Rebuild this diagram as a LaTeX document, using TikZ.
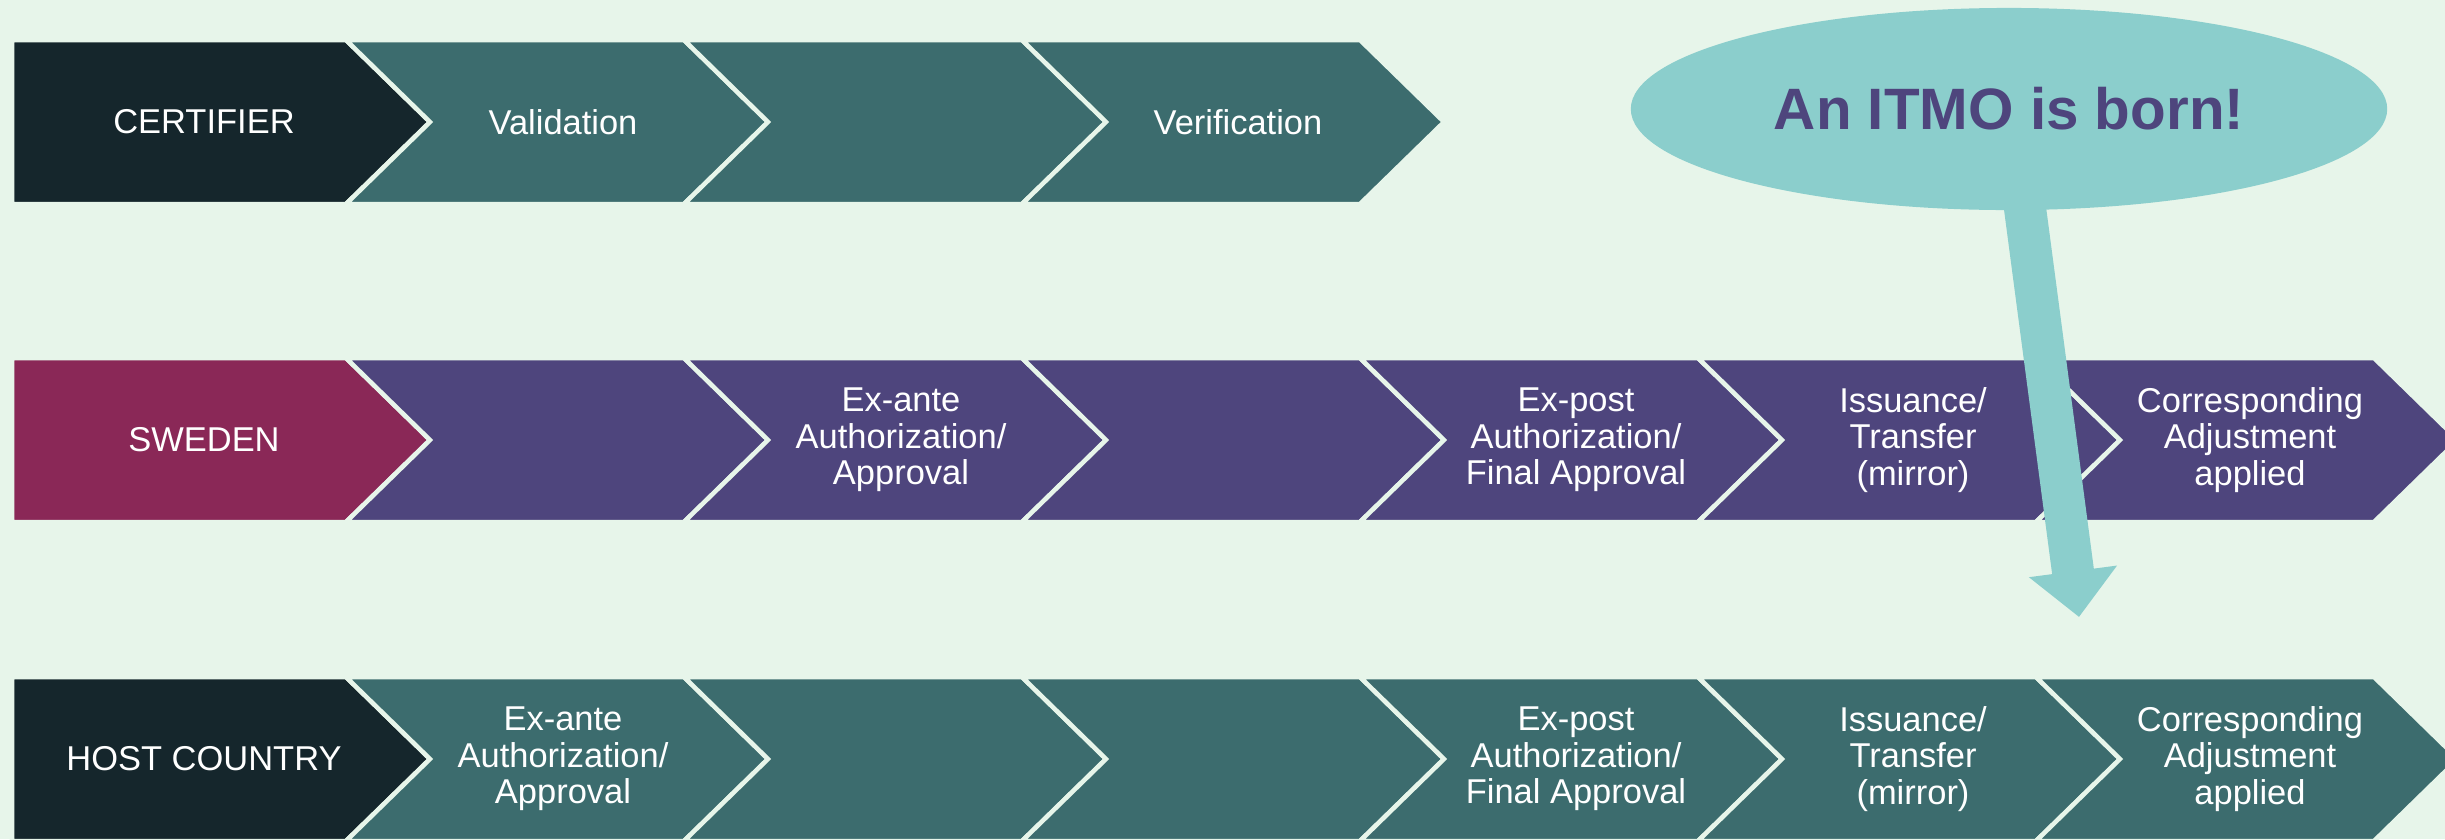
\documentclass[tikz,border=0pt]{standalone}
\usepackage{fontspec}
\setmainfont{Liberation Sans}
\usepackage{tikz}
\usetikzlibrary{positioning,shapes.geometric,arrows.meta}
\definecolor{bgmint}{HTML}{E7F5EA}
\definecolor{headdark}{HTML}{15262C}
\definecolor{stepteal}{HTML}{3C6C6E}
\definecolor{steppurple}{HTML}{4E457D}
\definecolor{headmaroon}{HTML}{8A2857}
\definecolor{itmoblue}{HTML}{8BCECC}
\tikzset{
    chev/.style={
        fill=#1,
        draw=bgmint,
        line width=0.045cm,
        line join=miter
    },
    steptext/.style={
        text=white,
        align=center,
        inner sep=0pt,
        font=\fontsize{9.8}{10.4}\selectfont
    },
    bubble/.style={
        ellipse,
        fill=itmoblue,
        minimum width=7.56cm,
        minimum height=2.02cm,
        inner sep=0pt,
        text=steppurple,
        font=\fontsize{16.6}{19}\selectfont\bfseries
    },
    tail/.style={draw=itmoblue, line width=0.42cm, -{Triangle[length=0.46cm,width=0.86cm]}}
}

\begin{document}
\begin{tikzpicture}[x=0.01cm,y=-0.01cm]
        % Sfondo e dimensioni
        \useasboundingbox (0,0) rectangle (2445,839);
        \fill[bgmint] (0,0) rectangle (2445,839);
        \clip (0,0) rectangle (2445,839);

        % Frecce delle tre righe: testa piatta + passi con tacca
        \foreach \yc/\first/\rest/\n in {122/headdark/stepteal/3, 440/headmaroon/steppurple/6, 759/headdark/stepteal/6}
            {
            \draw[chev=\first] (12,\yc-82) -- (346,\yc-82) -- (430,\yc) -- (346,\yc+82) -- (12,\yc+82) -- cycle;
            \foreach \i in {1,...,\n}
                {
                \pgfmathsetmacro{\xa}{346+338*(\i-1)}
                \pgfmathsetmacro{\xb}{\xa+338}
                \draw[chev=\rest] (\xa,\yc-82) -- (\xb,\yc-82) -- (\xb+84,\yc) -- (\xb,\yc+82) -- (\xa,\yc+82) -- (\xa+84,\yc) -- cycle;
                }
            }

        % Testi riga 1
        \node[steptext] (cert) at (204,122) {CERTIFIER};
        \node[steptext] (valid) at (563,122) {Validation};
        \node[steptext] (verif) at (1238,122) {Verification};

        % Testi riga 2
        \node[steptext] (swe) at (204,440) {SWEDEN};
        \node[steptext] (swe-ante) at (901,440) {Ex-ante\\Authorization/\\Approval};
        \node[steptext] (swe-post) at (1576,440) {Ex-post\\Authorization/\\Final Approval};
        \node[steptext] (swe-iss) at (1913,440) {Issuance/\\Transfer\\(mirror)};
        \node[steptext] (swe-ca) at (2250,440) {Corresponding\\Adjustment\\applied};

        % Testi riga 3
        \node[steptext] (host) at (204,759) {HOST COUNTRY};
        \node[steptext] (host-ante) at (563,759) {Ex-ante\\Authorization/\\Approval};
        \node[steptext] (host-post) at (1576,759) {Ex-post\\Authorization/\\Final Approval};
        \node[steptext] (host-iss) at (1913,759) {Issuance/\\Transfer\\(mirror)};
        \node[steptext] (host-ca) at (2250,759) {Corresponding\\Adjustment\\applied};

        % Fumetto con la freccia
        \node[bubble] (itmo) at (2009,109) {An ITMO is born!};
        \coordinate (birth) at (2079,617);
        \draw[tail] ([xshift=0.15cm,yshift=0.1cm]itmo.south) -- (birth);

    \end{tikzpicture}
\end{document}
